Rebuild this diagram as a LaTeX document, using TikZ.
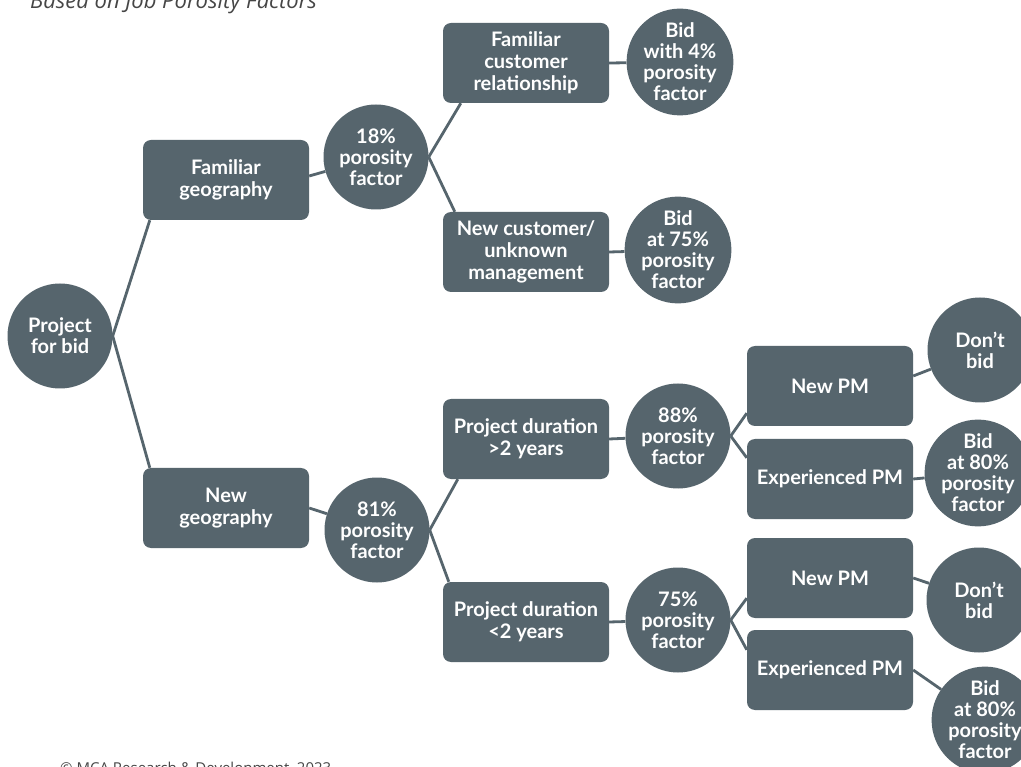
\documentclass[tikz,border=0pt]{standalone}
\usepackage{fontspec}
\setmainfont{Lato}
\newfontfamily\opensans{Open Sans}
\usetikzlibrary{calc}
\definecolor{slate}{RGB}{86,101,109}
\definecolor{inkgray}{RGB}{70,70,70}
\begin{document}
\begin{tikzpicture}[x=1pt,y=-1pt,
  box/.style={rectangle, rounded corners=8pt, fill=slate, minimum width=166pt, minimum height=80pt,
    text=white, font=\bfseries\fontsize{20}{22}\selectfont, align=center, inner sep=0pt},
  disc/.style={circle, fill=slate, minimum size=105pt, inner sep=0pt,
    text=white, font=\bfseries\fontsize{20}{21}\selectfont, align=center},
  link/.style={draw=slate, line width=2.8pt}]
\useasboundingbox (0,0) rectangle (1021,767);
\clip (0,0) rectangle (1021,767);
\fill[white] (0,0) rectangle (1021,767);

% title and credit
\node[anchor=base west, inner sep=0pt, text=inkgray, font=\opensans\itshape\fontsize{22}{26}\selectfont] (title) at (30,9) {Based on Job Porosity Factors};
\node[anchor=base west, inner sep=0pt, text=inkgray, font=\opensans\fontsize{15}{18}\selectfont] (credit) at (60,773) {© MCA Research \& Development, 2023};

% nodes
\node[disc] (pfb) at (60,336) {Project\\for bid};
\node[box] (fg) at (226,180) {Familiar\\geography};
\node[box] (ng) at (226,508) {New\\geography};
\node[disc] (c18) at (376,157) {18\%\\porosity\\factor};
\node[disc] (c81) at (377,530) {81\%\\porosity\\factor};
\node[box] (fcr) at (526,63) {Familiar\\customer\\relationship};
\node[box] (ncu) at (526,252) {New customer/\\unknown\\management};
\node[disc] (b4) at (680,62) {Bid\\with 4\%\\porosity\\factor};
\node[disc] (b75) at (678,250) {Bid\\at 75\%\\porosity\\factor};
\node[box] (pda) at (526,439) {Project duration\\>2 years};
\node[box] (pdb) at (526,622) {Project duration\\<2 years};
\node[disc] (c88) at (678,436) {88\%\\porosity\\factor};
\node[disc] (c75) at (678,620) {75\%\\porosity\\factor};
\node[box] (npma) at (830,386) {New PM};
\node[box] (epma) at (830,479) {Experienced PM};
\node[box] (npmb) at (830,578) {New PM};
\node[box] (epmb) at (830,670) {Experienced PM};
\node[disc] (dba) at (980,350) {Don’t\\bid};
\node[disc] (b80a) at (978,473) {Bid\\at 80\%\\porosity\\factor};
\node[disc] (dbb) at (979,600) {Don’t\\bid};
\node[disc] (b80b) at (985,720) {Bid\\at 80\%\\porosity\\factor};

% connectors
\draw[link] (pfb.east) -- ($(fg.south west)+(7,0)$);
\draw[link] (pfb.east) -- ($(ng.north west)+(7,0)$);
\draw[link] ($(fg.east)+(0,-4)$) -- (c18);
\draw[link] (ng.east) -- (c81);
\draw[link] (c18.east) -- ($(fcr.south west)+(18,0)$);
\draw[link] (c18.east) -- ($(ncu.north west)+(12,0)$);
\draw[link] (fcr.east) -- (b4);
\draw[link] (ncu.east) -- (b75);
\draw[link] (c81.east) -- ($(pda.south west)+(15,0)$);
\draw[link] (c81.east) -- ($(pdb.north west)+(6,0)$);
\draw[link] (pda.east) -- (c88);
\draw[link] (pdb.east) -- (c75);
\draw[link] (c88.east) -- ($(npma.south west)+(0,-13)$);
\draw[link] (c88.east) -- ($(epma.north west)+(0,19)$);
\draw[link] (c75.east) -- ($(npmb.south west)+(0,-20)$);
\draw[link] (c75.east) -- ($(epmb.north west)+(0,20)$);
\draw[link] ($(npma.east)+(0,-10)$) -- (dba);
\draw[link] (epma.east) -- (b80a);
\draw[link] (npmb.east) -- (dbb);
\draw[link] (epmb.east) -- (b80b);
\end{tikzpicture}
\end{document}
